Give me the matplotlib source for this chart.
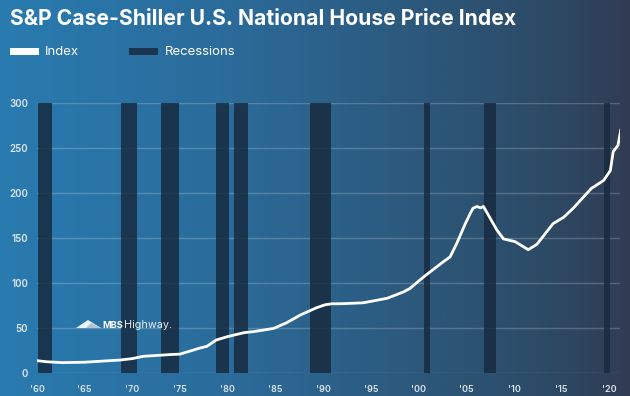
import matplotlib
matplotlib.use("Agg")
import matplotlib.pyplot as plt
import numpy as np
from matplotlib.patches import Rectangle, Polygon

plt.rcParams['font.family'] = ['Inter', 'Roboto', 'DejaVu Sans']

# House price index
years = [1960.0, 1961.0, 1962.7, 1965.0, 1968.7, 1970.0, 1971.1, 1974.0, 1975.0,
         1976.4, 1977.0, 1977.8, 1978.8, 1980.0, 1981.7, 1982.7, 1984.8, 1986.2,
         1987.6, 1989.3, 1990.2, 1990.9, 1992.0, 1994.2, 1996.7, 1998.4, 1999.1,
         2000.1, 2000.8, 2002.6, 2003.3, 2004.0, 2004.9, 2005.4, 2005.7, 2006.1,
         2006.5, 2006.8, 2007.5, 2008.2, 2008.9, 2010.1, 2011.5, 2012.4, 2014.1,
         2015.2, 2016.2, 2018.1, 2019.4, 2020.1, 2020.4, 2020.9, 2021.2]
index = [13.7, 12.5, 11.5, 12.0, 14.4, 16.0, 18.5, 20.5, 21.0,
         25.5, 27.5, 29.6, 36.7, 40.5, 44.8, 46.0, 49.5, 56.0,
         64.4, 72.5, 75.8, 76.9, 77.0, 78.0, 83.0, 90.0, 94.0,
         103.0, 109.0, 123.7, 129.0, 144.0, 166.0, 177.0, 183.0, 185.0,
         183.5, 185.0, 172.0, 159.0, 149.0, 146.0, 137.0, 143.0, 166.0,
         173.0, 183.0, 205.0, 214.0, 225.0, 246.0, 253.0, 270.7]

# recession periods (start, end)
rec_start = [1960.07, 1968.77, 1973.03, 1978.76, 1980.68, 1988.66, 2000.57, 2006.86, 2019.48]
rec_end = [1961.54, 1970.51, 1974.88, 1980.09, 1982.15, 1990.86, 2001.17, 2008.11, 2020.10]

xtick_years = [1960, 1965, 1970, 1975, 1980, 1985, 1990, 1995, 2000, 2005, 2010, 2015, 2020]
xtick_labels = ["'60", "'65", "'70", "'75", "'80", "'85", "'90", "'95", "'00", "'05", "'10", "'15", "'20"]
yticks = [0, 50, 100, 150, 200, 250, 300]

W, H = 630, 396
fig = plt.figure(figsize=(W / 100, H / 100), dpi=100)

# background gradient
bg = fig.add_axes([0, 0, 1, 1], zorder=-10)
stops = np.array([0.0, 0.35, 0.6, 0.85, 1.0])
cols = np.array([[41, 123, 176], [43, 108, 155], [44, 92, 130], [44, 76, 104], [49, 60, 84]]) / 255
t = np.linspace(0, 1, 400)
grad = np.stack([np.interp(t, stops, cols[:, k]) for k in range(3)], axis=-1)
bg.imshow(grad[np.newaxis, :, :], aspect='auto', extent=[0, 1, 0, 1])
bg.set_axis_off()

ax = fig.add_axes([37 / W, 1 - 373 / H, 583 / W, 270 / H])
ax.patch.set_alpha(0)
ax.set_xlim(1960, 1960 + 583 / 9.54)
ax.set_ylim(0, 300)

bar_col = (0.09, 0.17, 0.25, 0.85)
for s, e in zip(rec_start, rec_end):
    ax.axvspan(s, e, ymin=0, ymax=1, color=bar_col, lw=0, zorder=1)

for v in yticks:
    ax.axhline(v, color='white', alpha=0.2, lw=1, zorder=0.5)

ax.plot(years, index, color='white', lw=2.0, zorder=3,
        solid_capstyle='round', solid_joinstyle='round')

for sp in ax.spines.values():
    sp.set_visible(False)
ax.set_xticks(xtick_years)
ax.set_xticklabels(xtick_labels)
ax.set_yticks(yticks)
ax.tick_params(length=0, colors='#dfe5ec', labelsize=7)
ax.tick_params(axis='y', pad=6.5)
ax.tick_params(axis='x', pad=9, labelsize=6.5)
for lab in ax.get_xticklabels() + ax.get_yticklabels():
    lab.set_fontweight('semibold')

# title and legend
fig.text(10 / W, 1 - 19 / H, "S&P Case-Shiller U.S. National House Price Index",
         color='white', fontsize=15.2, fontweight='bold', va='center', ha='left')
fig.patches.append(Rectangle((10 / W, 1 - 55 / H), 29 / W, 7 / H, transform=fig.transFigure,
                             color='white', lw=0))
fig.text(45 / W, 1 - 52 / H, "Index", color='white', fontsize=9.5, va='center')
fig.patches.append(Rectangle((129 / W, 1 - 55 / H), 29 / W, 7 / H, transform=fig.transFigure,
                             color='#1b3550', lw=0))
fig.text(165 / W, 1 - 52 / H, "Recessions", color='white', fontsize=9.5, va='center')

# logo
fig.patches.append(Polygon([[76 / W, 1 - 328 / H], [88 / W, 1 - 320 / H], [101 / W, 1 - 328 / H]],
                           closed=True, transform=fig.transFigure, color='#eef2f6', lw=0))
fig.patches.append(Polygon([[86 / W, 1 - 328 / H], [91 / W, 1 - 323 / H], [101 / W, 1 - 328 / H]],
                           closed=True, transform=fig.transFigure, color='#b4c4d3', lw=0))
fig.text(102 / W, 1 - 325 / H, "MBS", color='white', fontsize=6.6, fontweight='bold', va='center')
fig.text(124 / W, 1 - 325 / H, "Highway.", color='#e8edf2', fontsize=7.8, va='center')

fig.savefig("out.png", dpi=100)
